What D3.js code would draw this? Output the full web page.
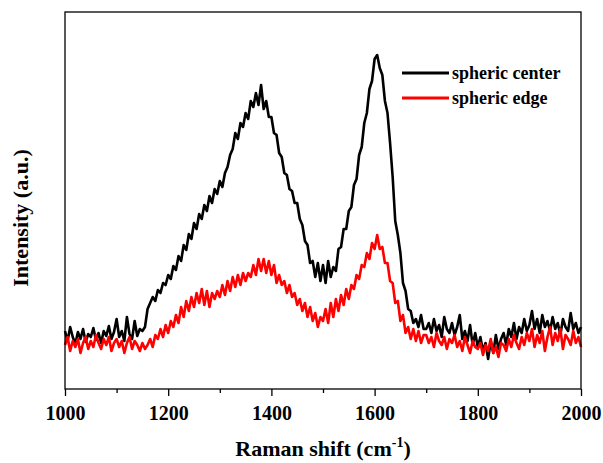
<!DOCTYPE html>
<html>
<head>
<meta charset="utf-8">
<script src="https://d3js.org/d3.v7.min.js"></script>
<style>
  body { margin: 0; background: #fff; }
  text { font-family: "Liberation Serif", "Times New Roman", serif; font-weight: bold; }
</style>
</head>
<body>
<div id="chart"></div>
<script>

var shiftStart = 1000, shiftStep = 5;

var centerValues = [
  58, 48, 62, 52, 45, 57, 50, 60, 47, 55,
  52, 61, 49, 56, 46, 58, 53, 63, 50, 57,
  70, 52, 58, 48, 72, 55, 50, 68, 53, 60,
  58, 62, 80, 86, 92, 88, 99, 96, 106, 104,
  114, 110, 123, 119, 133, 128, 144, 139, 155, 150,
  166, 160, 175, 170, 184, 178, 193, 186, 200, 195,
  208, 202, 216, 222, 234, 240, 256, 250, 266, 262,
  276, 270, 288, 282, 296, 284, 304, 280, 288, 272,
  272, 256, 254, 236, 232, 216, 214, 200, 198, 186,
  186, 170, 164, 148, 144, 126, 128, 112, 126, 108,
  124, 106, 128, 112, 122, 118, 140, 142, 160, 160,
  178, 182, 204, 210, 234, 242, 266, 276, 300, 308,
  330, 334, 321, 314, 288, 276, 246, 212, 168, 154,
  136, 106, 98, 80, 78, 66, 70, 62, 74, 60,
  60, 66, 56, 70, 58, 64, 52, 72, 60, 56,
  66, 54, 62, 74, 50, 58, 48, 64, 44, 56,
  42, 52, 38, 46, 30, 48, 36, 54, 40, 50,
  56, 44, 60, 52, 66, 50, 62, 56, 70, 58,
  64, 78, 60, 70, 56, 74, 62, 68, 58, 72,
  60, 66, 54, 70, 62, 58, 76, 60, 66, 56,
  62
];

var edgeValues = [
  44, 52, 38, 48, 42, 50, 36, 46, 52, 40,
  48, 42, 54, 46, 40, 50, 44, 52, 38, 46,
  50, 42, 48, 36, 46, 52, 40, 48, 44, 38,
  46, 40, 44, 50, 42, 54, 50, 60, 52, 64,
  56, 68, 62, 74, 66, 82, 72, 88, 78, 92,
  82, 96, 86, 100, 84, 98, 82, 96, 90, 98,
  92, 104, 94, 108, 98, 112, 102, 114, 104, 116,
  108, 116, 112, 124, 114, 130, 118, 130, 116, 128,
  114, 124, 106, 114, 104, 108, 96, 104, 92, 96,
  84, 90, 78, 86, 72, 82, 68, 76, 62, 72,
  68, 80, 66, 86, 72, 90, 78, 94, 84, 100,
  90, 104, 100, 114, 110, 124, 122, 136, 130, 146,
  140, 154, 140, 142, 126, 126, 108, 106, 86, 88,
  68, 74, 56, 62, 50, 60, 48, 58, 46, 54,
  54, 46, 52, 42, 56, 48, 44, 52, 40, 50,
  46, 54, 42, 48, 38, 52, 44, 36, 48, 42,
  40, 46, 34, 44, 38, 50, 36, 42, 32, 46,
  44, 38, 50, 42, 54, 46, 40, 52, 44, 56,
  48, 60, 42, 54, 46, 58, 38, 52, 62, 44,
  56, 48, 60, 40, 54, 50, 44, 58, 46, 52,
  42
];

var majorTicks = [1000, 1200, 1400, 1600, 1800, 2000];
var minorTicks = [1100, 1300, 1500, 1700, 1900];
var seriesNames = ["spheric center", "spheric edge"];
var seriesColors = ["#000000", "#ff0000"];

var width = 603, height = 463;
var margin = {top: 12, right: 22, bottom: 74, left: 65};
var plotW = width - margin.left - margin.right,
    plotH = height - margin.top - margin.bottom;

var svg = d3.select("#chart").append("svg")
    .attr("width", width)
    .attr("height", height);

var g = svg.append("g")
    .attr("transform", "translate(" + margin.left + "," + margin.top + ")");

var xScale = d3.scaleLinear().domain([1000, 2000]).range([0, plotW]);
var yScale = d3.scaleLinear().domain([0, 377]).range([plotH, 0]);

function toPoints(values) {
  return values.map(function (v, i) { return [shiftStart + i * shiftStep, v]; });
}

var line = d3.line()
    .x(function (d) { return xScale(d[0]); })
    .y(function (d) { return yScale(d[1]); });

// draw center first, edge on top (as in the figure)
[centerValues, edgeValues].forEach(function (vals, i) {
  g.append("path")
      .datum(toPoints(vals))
      .attr("fill", "none")
      .attr("stroke", seriesColors[i])
      .attr("stroke-width", 2.6)
      .attr("stroke-linejoin", "round")
      .attr("d", line);
});

// frame
g.append("rect")
    .attr("width", plotW)
    .attr("height", plotH)
    .attr("fill", "none")
    .attr("stroke", "#000")
    .attr("stroke-width", 1.3);

// x axis, major + minor ticks
var xAxis = g.append("g")
    .attr("transform", "translate(0," + plotH + ")")
    .call(d3.axisBottom(xScale).tickValues(majorTicks).tickSize(7).tickPadding(10).tickFormat(d3.format("d")));
xAxis.select(".domain").remove();
xAxis.selectAll("text").attr("font-size", "20px").attr("fill", "#000")
    .style("font-family", "Liberation Serif, serif").style("font-weight", "bold");
xAxis.selectAll("line").attr("stroke-width", 1.3);

var xMinor = g.append("g")
    .attr("transform", "translate(0," + plotH + ")")
    .call(d3.axisBottom(xScale).tickValues(minorTicks).tickSize(4).tickFormat(""));
xMinor.select(".domain").remove();
xMinor.selectAll("line").attr("stroke-width", 1.3);

// axis titles
var xTitle = svg.append("text")
    .attr("x", margin.left + plotW / 2)
    .attr("y", 456)
    .attr("text-anchor", "middle")
    .attr("font-size", "22px");
xTitle.append("tspan").text("Raman shift (cm");
xTitle.append("tspan").attr("font-size", "14px").attr("dy", -9).text("-1");
xTitle.append("tspan").attr("dy", 9).text(")");

svg.append("text")
    .attr("transform", "translate(28,218) rotate(-90)")
    .attr("text-anchor", "middle")
    .attr("font-size", "22px")
    .text("Intensity (a.u.)");

// legend
var legend = svg.append("g");
seriesNames.forEach(function (name, i) {
  var y = 73 + i * 25;
  legend.append("line")
      .attr("x1", 402).attr("x2", 449)
      .attr("y1", y).attr("y2", y)
      .attr("stroke", seriesColors[i])
      .attr("stroke-width", 2.8);
  legend.append("text")
      .attr("x", 452)
      .attr("y", y + 6)
      .attr("font-size", "18px")
      .text(name);
});

</script>
</body>
</html>
